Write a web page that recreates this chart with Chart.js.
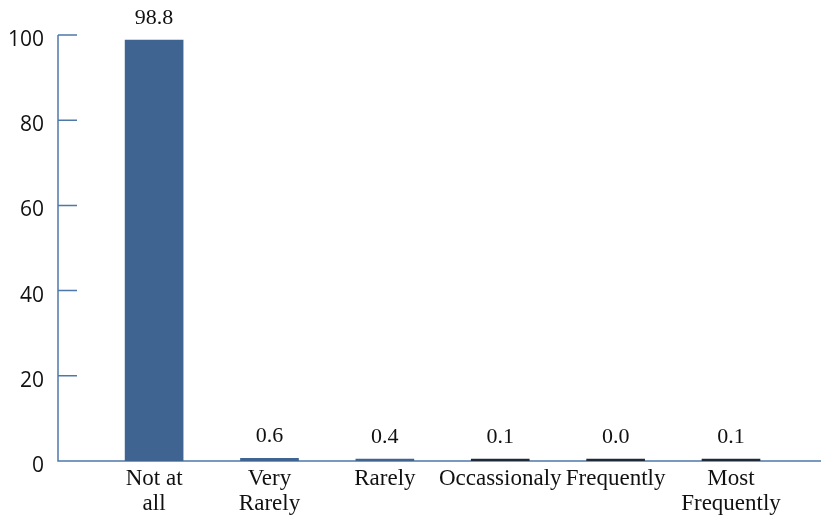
<!DOCTYPE html>
<html>
<head>
<meta charset="utf-8">
<script src="https://cdn.jsdelivr.net/npm/chart.js@4"></script>
<style>
  html, body { margin: 0; padding: 0; background: #ffffff; }
  #wrap { width: 821px; height: 517px; }
</style>
</head>
<body>
<div id="wrap"><canvas id="chart" width="821" height="517"></canvas></div>
<script>
// Frequency categories (multi-line labels) and their percentages
const categories = [
  ["Not at", "all"],
  ["Very", "Rarely"],
  ["Rarely"],
  ["Occassionaly"],
  ["Frequently"],
  ["Most", "Frequently"]
];
const percentages = [98.8, 0.6, 0.4, 0.1, 0.0, 0.1];
const yTicks = [0, 20, 40, 60, 80, 100];

const AXIS_COLOR = '#4f78aa';
const BAR_COLOR = '#3f6491';
const THIN_BAR_COLOR = '#1e2a38';
const SERIF = '"Liberation Serif", "DejaVu Serif", serif';
const SANS = '"Open Sans", "Noto Sans", sans-serif';

// Axis lines with short inward tick marks, drawn beneath the bars
const axesPlugin = {
  id: 'axesPlugin',
  beforeDatasetsDraw(chart) {
    const { ctx, chartArea, scales } = chart;
    const y = scales.y;
    const x0 = chartArea.left;
    const yBase = y.getPixelForValue(0);
    ctx.save();
    ctx.strokeStyle = AXIS_COLOR;
    ctx.lineWidth = 1.5;
    ctx.beginPath();
    ctx.moveTo(x0, y.getPixelForValue(100));
    ctx.lineTo(x0, yBase);
    ctx.lineTo(chart.width, yBase);
    yTicks.forEach(t => {
      const py = y.getPixelForValue(t);
      ctx.moveTo(x0, py);
      ctx.lineTo(x0 + 19, py);
    });
    ctx.stroke();
    ctx.restore();
  }
};

// Value annotations above each bar
const valueLabels = {
  id: 'valueLabels',
  afterDatasetsDraw(chart) {
    const { ctx } = chart;
    const meta = chart.getDatasetMeta(0);
    ctx.save();
    ctx.font = '22px ' + SERIF;
    ctx.fillStyle = '#111111';
    ctx.textAlign = 'center';
    ctx.textBaseline = 'bottom';
    meta.data.forEach((el, i) => {
      const top = Math.min(el.y, el.base);
      ctx.fillText(percentages[i].toFixed(1), el.x, top - 11);
    });
    ctx.restore();
  }
};

new Chart(document.getElementById('chart'), {
  type: 'bar',
  data: {
    datasets: [{
      data: percentages.map((v, i) => ({ x: i, y: v })),
      backgroundColor: percentages.map(v => (v < 0.25 ? THIN_BAR_COLOR : BAR_COLOR)),
      borderWidth: 0,
      barThickness: 58,
      minBarLength: 2
    }]
  },
  options: {
    responsive: false,
    animation: false,
    layout: { padding: { top: 35, right: 0, left: 0, bottom: 0 } },
    plugins: {
      legend: { display: false },
      tooltip: { enabled: false },
      title: { display: false }
    },
    scales: {
      x: {
        type: 'linear',
        offset: false,
        min: -0.833,
        max: 5.78,
        grid: { display: false, drawTicks: false, offset: false },
        border: { display: false },
        afterBuildTicks: s => { s.ticks = categories.map((c, i) => ({ value: i })); },
        afterFit: s => { s.height = 56; },
        ticks: {
          autoSkip: false,
          maxRotation: 0,
          padding: 5,
          color: '#111111',
          font: { family: SERIF, size: 23, lineHeight: 1.1 },
          callback: v => categories[v] || ''
        }
      },
      y: {
        min: 0,
        max: 100,
        grid: { display: false, drawTicks: false },
        border: { display: false },
        afterFit: s => { s.width = 58; },
        afterBuildTicks: s => { s.ticks = yTicks.map(v => ({ value: v })); },
        ticks: {
          padding: 14,
          labelOffset: 5,
          color: '#111111',
          font: { family: SANS, size: 21 }
        }
      }
    }
  },
  plugins: [axesPlugin, valueLabels]
});
</script>
</body>
</html>
